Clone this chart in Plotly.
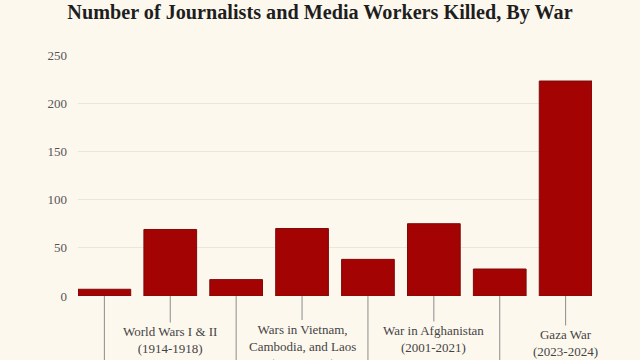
import plotly.graph_objects as go

# Data
wars = [
    "American Civil War<br>(1861-1865)",
    "World Wars I & II<br>(1914-1918)",
    "Korean War<br>(1950-1953)",
    "Wars in Vietnam,<br>Cambodia, and Laos<br>(1955-1975)",
    "Wars in the Former Yugoslavia<br>(1991-2001)",
    "War in Afghanistan<br>(2001-2021)",
    "Russia-Ukraine War<br>(2022-2024)",
    "Gaza War<br>(2023-2024)",
]
killed = [7, 69, 17, 70, 38, 75, 28, 223]
# label centre offset below the baseline in px; None = label sits below the visible frame
label_offsets = [None, 44, None, 50, None, 43, None, 47]
y_ticks = [0, 50, 100, 150, 200, 250]

BG = "#FDF8EE"
BAR = "#A30303"
SERIF = "Liberation Serif"
LINE = "#8C8C8C"

xs = list(range(len(wars)))

fig = go.Figure(
    go.Bar(
        x=xs,
        y=killed,
        marker=dict(color=BAR, line=dict(color="#7E0A0A", width=1)),
        hoverinfo="skip",
    )
)

for i, (lab, off) in enumerate(zip(wars, label_offsets)):
    if off is None:
        # label lies below the cropped frame: only its long leader line is visible
        fig.add_shape(type="line", xref="x", yref="paper",
                      x0=i, x1=i, y0=0, y1=-0.5,
                      line=dict(color=LINE, width=1))
    else:
        fig.add_annotation(
            x=i, y=0, xref="x", yref="y",
            text=lab,
            showarrow=True, arrowhead=0, arrowwidth=1, arrowcolor=LINE,
            ax=0, ay=off, axref="pixel", ayref="pixel",
            standoff=0, startstandoff=0,
            font=dict(family=SERIF, size=13, color="#444444"),
            align="center",
        )

fig.update_layout(
    width=640, height=360,
    margin=dict(l=78, r=48, t=55, b=64),
    paper_bgcolor=BG, plot_bgcolor=BG,
    bargap=0.2,
    showlegend=False,
    title=dict(
        text="<b>Number of Journalists and Media Workers Killed, By War</b>",
        x=0.5, xanchor="center", y=0.967, yanchor="middle",
        font=dict(family=SERIF, size=20.2, color="#1E1E1E"),
    ),
    xaxis=dict(range=[-0.4, 7.4], showticklabels=False, showgrid=False,
               zeroline=False, ticks="", fixedrange=True),
    yaxis=dict(range=[0, 250], tickvals=y_ticks, showgrid=True,
               gridcolor="#ECE6D9", gridwidth=1, zeroline=False,
               tickfont=dict(family=SERIF, size=13, color="#555555"),
               ticks="", ticklabelstandoff=10, fixedrange=True),
)

fig.write_html(
    "out.html",
    config={"displayModeBar": False},
    post_script=f"document.body.style.margin='0';document.body.style.background='{BG}';",
)
